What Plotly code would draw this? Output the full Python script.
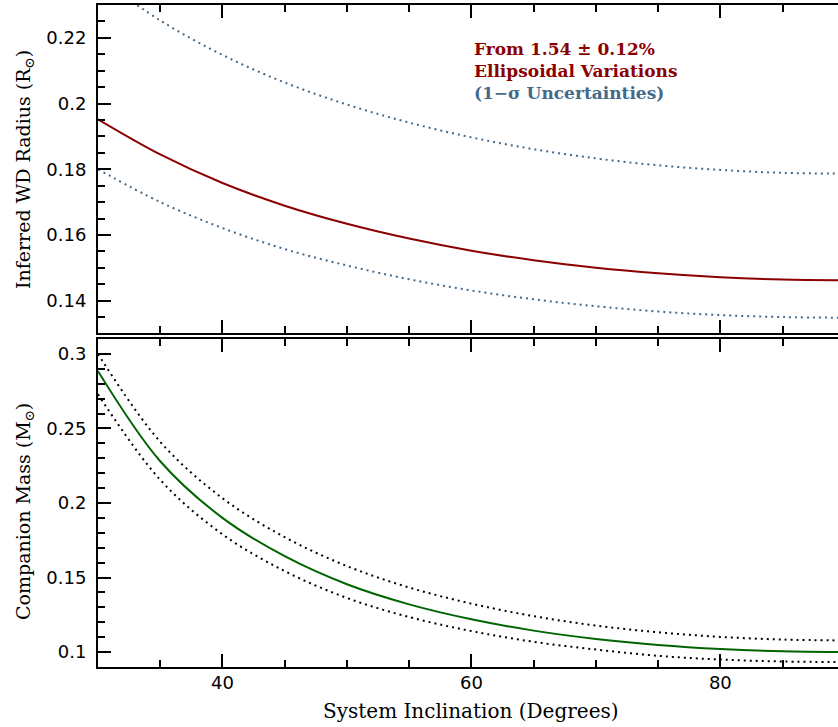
import plotly.graph_objects as go

# Inclination grid (degrees)
inclination = [30, 35, 40, 45, 50, 55, 60, 65, 70, 75, 80, 85, 90]

# Inferred white-dwarf radius (R_sun): best estimate and 1-sigma bounds
wd_radius = [0.1952, 0.1845, 0.1758, 0.1689, 0.1634, 0.1589, 0.1552,
             0.1523, 0.1500, 0.1483, 0.1471, 0.1464, 0.1462]
wd_radius_hi = [0.2385, 0.2253, 0.2148, 0.2064, 0.1997, 0.1942, 0.1897,
                0.1861, 0.1833, 0.1812, 0.1798, 0.1789, 0.1787]
wd_radius_lo = [0.1800, 0.1700, 0.1621, 0.1557, 0.1507, 0.1465, 0.1431,
                0.1404, 0.1383, 0.1367, 0.1356, 0.1350, 0.1348]

# Companion mass (M_sun): best estimate and bounds
comp_mass = [0.2884, 0.2280, 0.1900, 0.1643, 0.1455, 0.1320, 0.1220,
             0.1144, 0.1088, 0.1048, 0.1021, 0.1005, 0.1000]
comp_mass_hi = [0.2999, 0.2410, 0.2032, 0.1771, 0.1577, 0.1433, 0.1325,
                0.1241, 0.1178, 0.1133, 0.1102, 0.1084, 0.1078]
comp_mass_lo = [0.2729, 0.2155, 0.1790, 0.1543, 0.1363, 0.1235, 0.1141,
                0.1069, 0.1017, 0.0975, 0.0950, 0.0937, 0.0933]

RED = "#8b0000"
SLATE = "#44698a"
GREEN = "#006400"
TICK_FONT = dict(family="DejaVu Sans", size=18, color="black")
YTITLE_FONT = dict(family="DejaVu Serif", size=19, color="black")
XTITLE_FONT = dict(family="DejaVu Serif", size=20, color="black")
NOTE_FONT = dict(family="DejaVu Serif", size=17, color=RED, weight="bold")

fig = go.Figure()

def curve(y, color, dash, xa, ya):
    fig.add_trace(go.Scatter(
        x=inclination, y=y, mode="lines", xaxis=xa, yaxis=ya,
        line=dict(color=color, width=2, dash=dash, shape="spline", smoothing=1.0),
        showlegend=False, hoverinfo="skip"))

# top panel: WD radius
curve(wd_radius_hi, SLATE, "2px,4px", "x", "y")
curve(wd_radius_lo, SLATE, "2px,4px", "x", "y")
curve(wd_radius, RED, "solid", "x", "y")
# bottom panel: companion mass
curve(comp_mass_hi, "black", "2px,4px", "x2", "y2")
curve(comp_mass_lo, "black", "2px,4px", "x2", "y2")
curve(comp_mass, GREEN, "solid", "x2", "y2")

XRANGE = [30, 89.45]
TOP_DOM = [0.5038, 1.0]
BOT_DOM = [0.0, 0.4955]
PLOT_TOP, PLOT_H, PLOT_L, PLOT_W = 5, 662, 98, 740

def py(pix):
    """paper y from a pixel row"""
    return 1 - (pix - PLOT_TOP) / PLOT_H

xcommon = dict(range=XRANGE, showline=True, linecolor="black", linewidth=2,
               mirror="ticks", ticks="inside", ticklen=13, tickwidth=2,
               tickcolor="black", dtick=20, tick0=0, showgrid=False,
               zeroline=False,
               minor=dict(dtick=5, tick0=0, ticks="inside", ticklen=7,
                          tickwidth=2, tickcolor="black", showgrid=False))

ycommon = dict(showline=True, linecolor="black", linewidth=2, mirror=False,
               ticks="inside", ticklen=13, tickwidth=2, tickcolor="black",
               showgrid=False, zeroline=False, tickfont=TICK_FONT,
               ticklabelstandoff=6)

fig.update_layout(
    width=838, height=727,
    margin=dict(l=98, r=0, t=5, b=60),
    paper_bgcolor="white", plot_bgcolor="white",
    xaxis=dict(xcommon, domain=[0, 1], anchor="y", showticklabels=False),
    yaxis=dict(ycommon, domain=TOP_DOM, anchor="x", range=[0.13, 0.23],
               dtick=0.02, tick0=0,
               minor=dict(dtick=0.005, tick0=0, ticks="inside", ticklen=7,
                          tickwidth=2, tickcolor="black", showgrid=False)),
    xaxis2=dict(xcommon, domain=[0, 1], anchor="y2", showticklabels=True,
                tickfont=TICK_FONT, ticklabelstandoff=-2),
    yaxis2=dict(ycommon, domain=BOT_DOM, anchor="x2", range=[0.09, 0.31],
                dtick=0.05, tick0=0,
                minor=dict(dtick=0.01, tick0=0, ticks="inside", ticklen=7,
                           tickwidth=2, tickcolor="black", showgrid=False)),
    # right-hand tick marks for both panels
    yaxis3=dict(overlaying="y", side="right", anchor="x", range=[0.13, 0.23],
                dtick=0.02, tick0=0, ticks="inside", ticklen=6, tickwidth=2,
                tickcolor="black", showline=False, showgrid=False,
                zeroline=False, showticklabels=False),
    yaxis4=dict(overlaying="y2", side="right", anchor="x2", range=[0.09, 0.31],
                dtick=0.05, tick0=0, ticks="inside", ticklen=6, tickwidth=2,
                tickcolor="black", showline=False, showgrid=False,
                zeroline=False, showticklabels=False),
)

ann = []
ann.append(dict(text="Inferred WD Radius (R<sub>\u2299</sub>)", textangle=-90,
                xref="paper", yref="paper", x=(24 - PLOT_L) / PLOT_W,
                y=py(170), xanchor="center", yanchor="middle",
                showarrow=False, font=YTITLE_FONT))
ann.append(dict(text="Companion Mass (M<sub>\u2299</sub>)", textangle=-90,
                xref="paper", yref="paper", x=(24 - PLOT_L) / PLOT_W,
                y=py(512), xanchor="center", yanchor="middle",
                showarrow=False, font=YTITLE_FONT))
ann.append(dict(text="System Inclination (Degrees)", xref="x2", yref="paper",
                x=60, y=py(711.5), xanchor="center", yanchor="middle",
                showarrow=False, font=XTITLE_FONT))

ann.append(dict(text="From 1.54 \u00b1 0.12%<br>Ellipsoidal Variations<br>"
                     f"<span style='color:{SLATE}'>(1\u2212\u03c3 Uncertainties)</span>",
                xref="paper", yref="paper", x=(472 - PLOT_L) / PLOT_W, y=py(70.5),
                xanchor="left", yanchor="middle", align="left", showarrow=False,
                font=NOTE_FONT))
fig.update_layout(annotations=ann)

fig.write_html("out.html")
